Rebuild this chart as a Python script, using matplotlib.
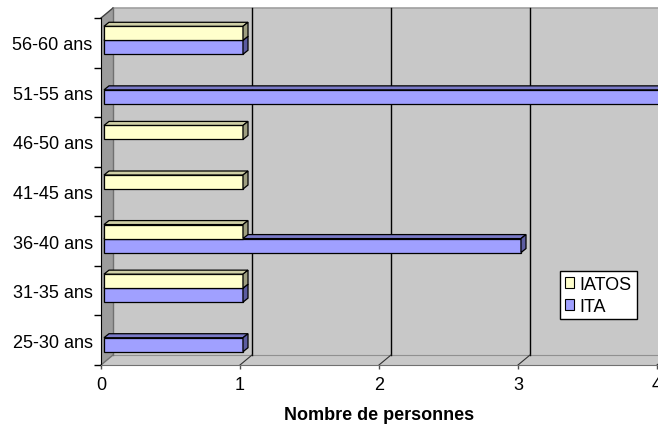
import numpy as np
import matplotlib.pyplot as plt
from matplotlib.patches import Polygon, Rectangle, Patch

plt.rcParams['font.family'] = ['Liberation Sans', 'DejaVu Sans']

# tranches d'age, de bas en haut
categories = ['25-30 ans', '31-35 ans', '36-40 ans', '41-45 ans',
              '46-50 ans', '51-55 ans', '56-60 ans']
iatos = [0, 1, 1, 1, 1, 0, 1]
ita = [1, 1, 3, 0, 0, 4, 1]
xticks = [0, 1, 2, 3, 4]

W, H = 658, 427
fig = plt.figure(figsize=(W / 100, H / 100), dpi=100)

# plan avant des axes, en pixels
left, right, top, bottom = 101, 657, 19, 366
ax = fig.add_axes([left / W, 1 - bottom / H, (right - left) / W, (bottom - top) / H])
n = len(categories)
ax.set_xlim(0, 4)
ax.set_ylim(-0.5, n - 0.5)
ax.patch.set_visible(False)

ux = 4 / (right - left)
uy = n / (bottom - top)
DX, DY = 12, 10          # profondeur des murs
y0, y1 = -0.5, n - 0.5

def off(x, y, dx, dy):
    return (x + dx * ux, y + dy * uy)

wall = '#C8C8C8'
# mur du fond
ax.add_patch(Rectangle(off(0, y0, DX, DY), 4.2, n, facecolor=wall,
                       edgecolor='none', clip_on=False, zorder=0))
ax.plot([off(0, y1, DX, DY)[0], 4.2], [off(0, y1, DX, DY)[1]] * 2,
        color='#A0A0A0', lw=1.2, clip_on=False, zorder=0.5)
# sol
ax.add_patch(Polygon([(0, y0), (4.2, y0), off(4.2, y0, DX, DY), off(0, y0, DX, DY)],
                     closed=True, facecolor=wall, edgecolor='none', clip_on=False, zorder=0.2))
ax.plot([off(0, y0, DX, DY)[0], 4.2], [off(0, y0, DX, DY)[1]] * 2,
        color='#909090', lw=0.8, clip_on=False, zorder=0.5)
# mur de gauche
ax.add_patch(Polygon([(0, y0), (0, y1), off(0, y1, DX, DY), off(0, y0, DX, DY)],
                     closed=True, facecolor='#9C9C9C', edgecolor='none', clip_on=False, zorder=0.3))
ax.plot([0, off(0, y1, DX, DY)[0]], [y1, off(0, y1, DX, DY)[1]],
        color='#404040', lw=1, clip_on=False, zorder=0.6)
ax.plot([off(0, y0, DX, DY)[0]] * 2, [off(0, y0, DX, DY)[1], off(0, y1, DX, DY)[1]],
        color='#707070', lw=1, clip_on=False, zorder=0.6)
ax.plot([0, off(0, y0, DX, DY)[0]], [y0, off(0, y0, DX, DY)[1]],
        color='#707070', lw=1, clip_on=False, zorder=0.6)

# quadrillage vertical sur le mur du fond et le sol
for xv in xticks[1:]:
    bx, by0 = off(xv, y0, DX, DY)
    ax.plot([bx, bx], [by0, off(xv, y1, DX, DY)[1]], color='black', lw=1,
            clip_on=False, zorder=0.7)
    ax.plot([xv, bx], [y0, by0], color='#303030', lw=0.8, clip_on=False, zorder=0.7)

# barres en relief
bh = 14 * uy
FX, FY = 3, 2.5          # decalage de la face avant des barres
BX, BY = 5, 4            # epaisseur des barres
pos = np.arange(n)
series = [(ita, pos - bh / 2, '#A0A0FF', '#7A7AC8', '#5C5CA0', 'ITA', 3),
          (iatos, pos + bh / 2, '#FFFFCC', '#CFCFA6', '#9E9E80', 'IATOS', 4)]
for vals, ys, face, topc, side, name, z in series:
    bars = ax.barh(ys, vals, height=bh, color=face, edgecolor='black', lw=0.9,
                   zorder=z)
    for p, v, yc in zip(bars, vals, ys):
        p.set_xy(off(0, yc - bh / 2, FX, FY))
        p.set_clip_on(False)
        p.set_visible(v > 0)
        if v <= 0:
            continue
        xa = off(0, 0, FX, FY)[0]
        xb = off(v, 0, FX, FY)[0]
        yt = off(0, yc + bh / 2, FX, FY)[1]
        yb = off(0, yc - bh / 2, FX, FY)[1]
        ax.add_patch(Polygon([(xa, yt), (xb, yt), off(xb, yt, BX, BY), off(xa, yt, BX, BY)],
                             closed=True, facecolor=topc, edgecolor='black', lw=0.9,
                             clip_on=False, zorder=z))
        ax.add_patch(Polygon([(xb, yb), (xb, yt), off(xb, yt, BX, BY), off(xb, yb, BX, BY)],
                             closed=True, facecolor=side, edgecolor='black', lw=0.9,
                             clip_on=False, zorder=z))

# axes
for s in ['top', 'right']:
    ax.spines[s].set_visible(False)
ax.spines['left'].set_color('black')
ax.spines['bottom'].set_color('#707070')
ax.spines['left'].set_zorder(5)
ax.spines['bottom'].set_zorder(5)
ax.set_yticks(pos)
ax.set_yticklabels(categories, fontsize=13)
ax.set_yticks(np.arange(n + 1) - 0.5, minor=True)
ax.tick_params(axis='y', which='major', length=0, pad=6)
ax.tick_params(axis='y', which='minor', length=5, width=1, color='black')
ax.set_xticks(xticks)
ax.set_xticklabels([str(t) for t in xticks], fontsize=13)
ax.tick_params(axis='x', length=3, width=1, color='#505050', pad=5)
ax.set_xlabel('Nombre de personnes', fontsize=13, fontweight='bold', labelpad=9)

handles = [Patch(facecolor='#FFFFCC', edgecolor='black', lw=0.8, label='IATOS'),
           Patch(facecolor='#A0A0FF', edgecolor='black', lw=0.8, label='ITA')]
leg = fig.legend(handles=handles, loc='upper left', bbox_to_anchor=(560 / W, 1 - 272 / H),
                 fontsize=13, frameon=True, fancybox=False, shadow=False, framealpha=1,
                 facecolor='white', handlelength=0.55, handleheight=0.55,
                 handletextpad=0.3, borderpad=0.25, labelspacing=0.3, borderaxespad=0)
leg.get_frame().set_edgecolor('black')
leg.get_frame().set_linewidth(1)

fig.savefig('out.png', dpi=100)
